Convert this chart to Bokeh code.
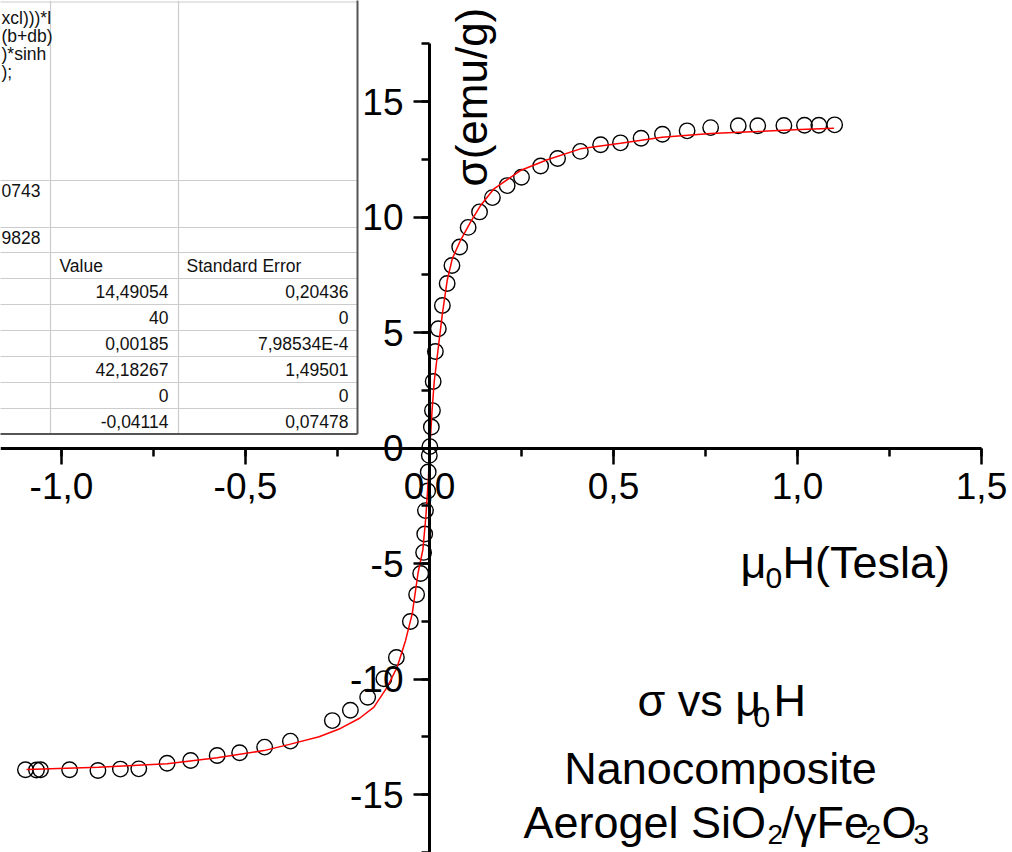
import math
from bokeh.plotting import figure
from bokeh.models import (Range1d, LinearAxis, SingleIntervalTicker,
                          CustomJSTickFormatter, Label)
from bokeh.core.properties import value
from bokeh.embed import file_html
from bokeh.resources import INLINE

# Magnetisation sigma (emu/g) against applied field mu0*H (T)
h_pos = [0.001, 0.005, 0.008, 0.010, 0.016, 0.024, 0.035, 0.048, 0.061, 0.082,
         0.105, 0.136, 0.171, 0.211, 0.250, 0.302, 0.348, 0.410, 0.465, 0.519,
         0.575, 0.633, 0.700, 0.764, 0.839, 0.892, 0.963, 1.019, 1.058, 1.101]
m_pos = [0.06, 0.91, 1.62, 2.88, 4.18, 5.16, 6.17, 7.12, 7.90, 8.70,
         9.55, 10.22, 10.84, 11.36, 11.72, 12.21, 12.53, 12.84, 13.13, 13.21,
         13.41, 13.58, 13.73, 13.87, 13.95, 13.95, 13.96, 13.97, 13.97, 13.99]
h_neg = [-0.0005, -0.0035, -0.005, -0.011, -0.013, -0.016, -0.024, -0.035,
         -0.052, -0.090, -0.124, -0.168, -0.215, -0.264, -0.378, -0.448,
         -0.516, -0.577, -0.649, -0.713, -0.790, -0.840, -0.901, -0.978,
         -1.057, -1.068, -1.098]
m_neg = [-0.32, -1.04, -1.86, -2.71, -3.72, -4.52, -5.43, -6.34,
         -7.51, -9.07, -9.99, -10.79, -11.35, -11.80, -12.69, -12.95,
         -13.19, -13.31, -13.53, -13.65, -13.89, -13.90, -13.96, -13.93,
         -13.93, -13.94, -13.93]

# Fitted curve
fit_h = [-1.095, -0.900, -0.713, -0.577, -0.450, -0.378, -0.300, -0.242, -0.190,
         -0.151, -0.115, -0.088, -0.065, -0.047, -0.031, -0.018, -0.010, -0.003,
         0.001, 0.007, 0.013, 0.024, 0.035, 0.048, 0.062, 0.084, 0.111, 0.139,
         0.175, 0.247, 0.320, 0.410, 0.519, 0.632, 0.764, 0.890, 1.008, 1.099]
fit_m = [-13.92, -13.82, -13.67, -13.41, -13.10, -12.82, -12.50, -12.14, -11.70,
         -11.22, -10.35, -9.49, -8.33, -7.18, -5.40, -4.40, -3.00, -1.30,
         0.03, 1.63, 2.90, 4.36, 5.81, 7.25, 8.20, 8.98, 9.77, 10.50,
         11.22, 12.01, 12.48, 12.95, 13.19, 13.45, 13.61, 13.70, 13.79, 13.84]

# Fit report table
param_values = ["14,49054", "40", "0,00185", "42,18267", "0", "-0,04114"]
param_errors = ["0,20436", "0", "7,98534E-4", "1,49501", "0", "0,07478"]
formula_tail = ["xcl)))*l", "(b+db)", ")*sinh", ");"]
stat_tail = ["0743", "9828"]

W, H = 1012, 852
# frame layout: pixel position of the origin and pixels per unit
ORIGIN_X, ORIGIN_Y = 429.0, 447.5
PX_PER_T, PX_PER_EMU = 368.0, 23.1


def xd(px):
    return (px - ORIGIN_X) / PX_PER_T


def yd(py):
    return (ORIGIN_Y - py) / PX_PER_EMU


p = figure(width=W, height=H, title=None,
           x_range=Range1d(xd(0), xd(W)), y_range=Range1d(yd(H), yd(0)),
           x_axis_location=None, y_axis_location=None,
           output_backend="svg", toolbar_location=None, min_border=0)
p.outline_line_color = None
p.background_fill_color = "white"
p.border_fill_color = "white"
p.xgrid.visible = False
p.ygrid.visible = False

FONT = "Liberation Sans"

# ---- fit report table (top left) ----
tbl_right, tbl_bottom = 357.0, 433.5
col_lines = [50.0, 178.0]
row_lines = [1.5, 180.0, 227.0, 252.0, 278.0, 304.0, 330.0, 356.0, 382.0, 408.0]
p.quad(left=[xd(-5)], right=[xd(tbl_right)], top=[yd(-5)], bottom=[yd(tbl_bottom)],
       fill_color="white", line_color=None)
p.segment(x0=[xd(c) for c in col_lines], y0=[yd(0)] * 2,
          x1=[xd(c) for c in col_lines], y1=[yd(tbl_bottom)] * 2,
          line_color="#cccccc", line_width=1.2)
p.segment(x0=[xd(-5)] * len(row_lines), y0=[yd(r) for r in row_lines],
          x1=[xd(tbl_right)] * len(row_lines), y1=[yd(r) for r in row_lines],
          line_color="#cccccc", line_width=1.2)
p.segment(x0=[xd(tbl_right), xd(-5)], y0=[yd(-5), yd(tbl_bottom)],
          x1=[xd(tbl_right), xd(tbl_right)], y1=[yd(tbl_bottom), yd(tbl_bottom)],
          line_color="#555555", line_width=2)

row_mid = [291.0, 317.0, 343.0, 369.0, 395.0, 420.5]
tbl_text = dict(text_font=value(FONT), text_font_size="17.5px",
                text_color="#111111", text_baseline="middle")
p.text(x=[xd(168)] * 6, y=[yd(r) for r in row_mid], text=param_values,
       text_align="right", **tbl_text)
p.text(x=[xd(348)] * 6, y=[yd(r) for r in row_mid], text=param_errors,
       text_align="right", **tbl_text)
p.text(x=[xd(59), xd(186)], y=[yd(265)] * 2, text=["Value", "Standard Error"],
       text_align="left", **tbl_text)
p.text(x=[xd(1)] * 4, y=[yd(17), yd(35), yd(53), yd(71)],
       text=formula_tail, text_align="left", **tbl_text)
p.text(x=[xd(1), xd(1)], y=[yd(190), yd(237)], text=stat_tail,
       text_align="left", **tbl_text)

# ---- data and fit ----
p.scatter(h_pos, m_pos, marker="circle", size=15.5, fill_color=None,
          line_color="black", line_width=1.4)
p.scatter(h_neg, m_neg, marker="circle", size=15.5, fill_color=None,
          line_color="black", line_width=1.4)
p.line(fit_h, fit_m, line_color="#ff0000", line_width=1.5)

# ---- axes crossing at the origin ----
def style_axis(ax):
    ax.axis_line_width = 3
    ax.axis_line_color = "black"
    ax.major_tick_line_width = 2.5
    ax.minor_tick_line_width = 2.5
    ax.major_tick_in = 0
    ax.minor_tick_in = 0
    ax.major_tick_out = 16
    ax.minor_tick_out = 8
    ax.major_label_text_font = FONT
    ax.major_label_text_font_size = "37px"
    ax.major_label_text_color = "black"


xaxis = LinearAxis(fixed_location=0, bounds=(-1.5, 1.5),
                   ticker=SingleIntervalTicker(interval=0.5, num_minor_ticks=2),
                   formatter=CustomJSTickFormatter(
                       code="var s = Math.abs(tick) < 1e-9 ? '0,0' : tick.toFixed(1).replace('.', ','); return s;"))
style_axis(xaxis)
xaxis.major_label_standoff = 9
p.add_layout(xaxis, "below")

yaxis = LinearAxis(fixed_location=0, bounds=(-17.5, 17.5),
                   ticker=SingleIntervalTicker(interval=5, num_minor_ticks=2),
                   formatter=CustomJSTickFormatter(code="return String(Math.round(tick) + 0);"))
style_axis(yaxis)
yaxis.major_label_standoff = 10
p.add_layout(yaxis, "left")

# ---- axis titles and annotation ----
def label(text, left, base, size, angle=0.0, align="left", baseline="alphabetic"):
    p.add_layout(Label(x=xd(left), y=yd(base), text=text, angle=angle,
                       text_font=FONT, text_font_size=f"{size}px",
                       text_color="black", text_align=align,
                       text_baseline=baseline))


BIG, SUB = 45, 30
label("\u03c3(emu/g)", 471, 186, 44, angle=math.pi / 2, baseline="middle")

label("\u03bc", 740, 562, BIG)
label("0", 765, 577, SUB)
label("H(Tesla)", 782, 562, BIG)

label("\u03c3 vs \u03bc", 637, 700, BIG)
label("0", 753, 716, SUB)
label("H", 773, 700, BIG)

label("Nanocomposite", 720, 768, BIG, align="center")

label("Aerogel SiO", 523, 822, BIG)
label("2", 767, 834, 28)
label("/\u03b3Fe", 781, 822, BIG)
label("2", 865, 834, 28)
label("O", 881, 822, BIG)
label("3", 913, 834, 28)

open("out.html", "w").write(file_html(p, INLINE))
